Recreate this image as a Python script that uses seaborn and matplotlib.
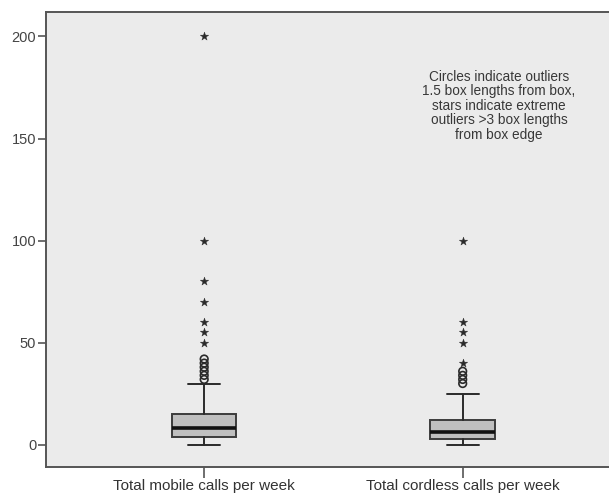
import matplotlib
matplotlib.use("Agg")
import matplotlib.pyplot as plt
import pandas as pd
import seaborn as sns

# Box summaries (calls per week)
categories = ["Total mobile calls per week", "Total cordless calls per week"]
q1 = [4, 3]
medians = [8, 6.5]
q3 = [15, 12]
whisker_low = [0, 0]
whisker_high = [30, 25]

# circles: outliers 1.5 box lengths from box
mobile_outliers = [32, 34, 36, 38, 40, 42]
cordless_outliers = [30, 32, 34, 36]
# stars: extreme outliers > 3 box lengths
mobile_extremes = [50, 55, 60, 70, 80, 100, 200]
cordless_extremes = [40, 50, 55, 60, 100]

note = ("Circles indicate outliers\n1.5 box lengths from box,\nstars indicate extreme\n"
        "outliers >3 box lengths\nfrom box edge")

sns.set_style("ticks", {"axes.facecolor": "#ebebeb"})
plt.rcParams['font.family'] = ['Liberation Sans', 'DejaVu Sans']

fig = plt.figure(figsize=(6.09, 4.94), dpi=100)
ax = fig.add_axes([0.0755, 0.055, 0.9245, 0.92])

positions = list(range(len(categories)))
stats = []
for i in positions:
    stats.append({
        "med": medians[i], "q1": q1[i], "q3": q3[i],
        "whislo": whisker_low[i], "whishi": whisker_high[i], "fliers": [],
    })

ax.bxp(stats, positions=positions, widths=0.25, capwidths=0.125,
       patch_artist=True, manage_ticks=False,
       boxprops=dict(facecolor="#bfbfbf", edgecolor="#3c3c3c", linewidth=1.4),
       medianprops=dict(color="#111111", linewidth=2.6),
       whiskerprops=dict(color="#2a2a2a", linewidth=1.4),
       capprops=dict(color="#2a2a2a", linewidth=1.4))

outliers = pd.DataFrame({
    "pos": [0] * len(mobile_outliers) + [1] * len(cordless_outliers),
    "value": mobile_outliers + cordless_outliers,
})
extremes = pd.DataFrame({
    "pos": [0] * len(mobile_extremes) + [1] * len(cordless_extremes),
    "value": mobile_extremes + cordless_extremes,
})

sns.scatterplot(data=outliers, x="pos", y="value", marker="o", s=30,
                facecolor="none", edgecolor="#2a2a2a", linewidth=1.2, ax=ax, zorder=3)
sns.scatterplot(data=extremes, x="pos", y="value", marker="*", s=40,
                color="#2a2a2a", edgecolor="#2a2a2a", linewidth=0.3, ax=ax, zorder=3)

ax.text(1.14, 166.0, note, ha="center", va="center", fontsize=9.8,
        color="#383838", linespacing=1.05)

ax.set_xlim(-0.612, 1.566)
ax.set_ylim(-10.8, 211.8)
ax.set_xticks(positions)
ax.set_xticklabels(categories, fontsize=11, color="#333333")
ax.set_yticks([0, 50, 100, 150, 200])
ax.tick_params(axis="y", labelsize=10.5, labelcolor="#444444", length=6, width=1.2,
               color="#555555", pad=1)
ax.tick_params(axis="x", length=8, width=1.2, color="#555555", pad=1)
ax.set_xlabel("")
ax.set_ylabel("")

for side in ["left", "bottom", "top"]:
    ax.spines[side].set_color("#555555")
    ax.spines[side].set_linewidth(1.4)
ax.spines["right"].set_visible(False)

fig.savefig("out.png", dpi=100)
